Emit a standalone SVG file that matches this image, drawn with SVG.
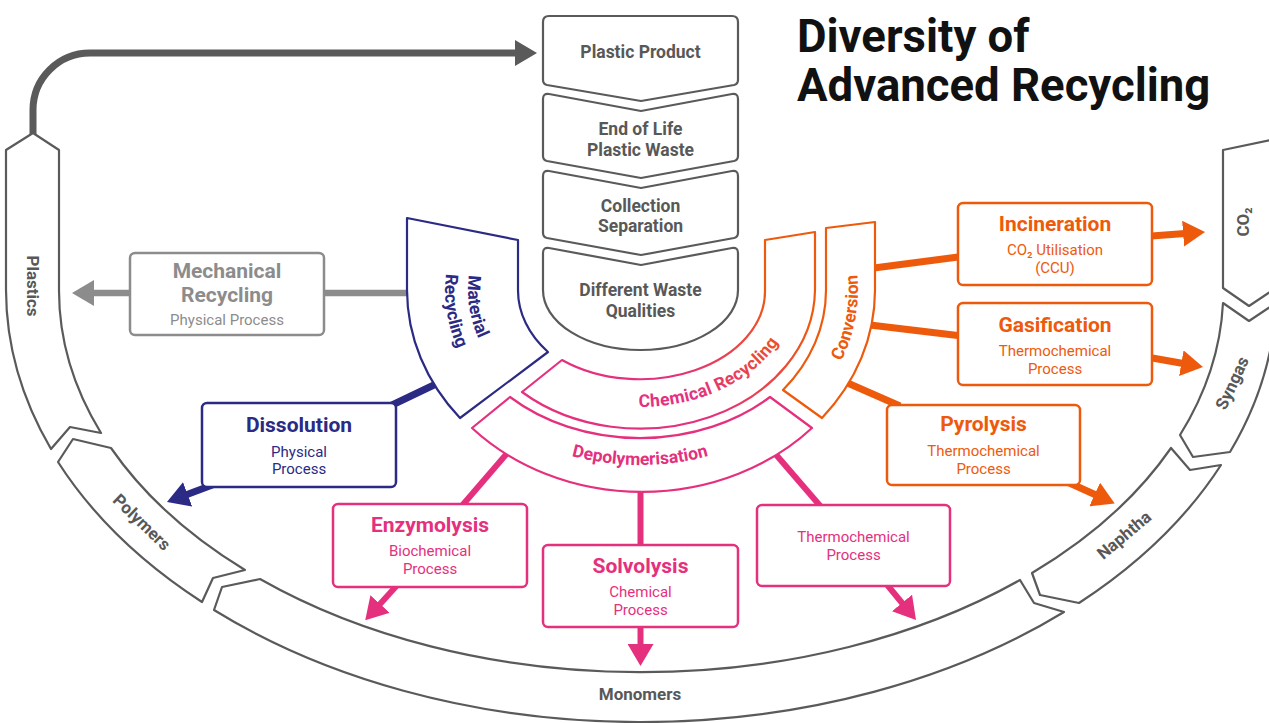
<svg xmlns="http://www.w3.org/2000/svg" width="1269" height="723" viewBox="0 0 1269 723">
<defs>
<style>
text{font-family:Roboto,"Liberation Sans",Arial,sans-serif;}
.ring{fill:#fff;stroke:#5a5a5a;stroke-width:2.2;stroke-linejoin:round;}
.rl{font-size:17px;font-weight:700;fill:#585858;text-anchor:middle;}
.chev{fill:#fff;stroke:#5a5a5a;stroke-width:2.2;stroke-linejoin:round;}
.cl{font-size:17.5px;font-weight:700;fill:#585858;text-anchor:middle;}
.box{fill:#fff;stroke-width:2.5;}
.band{fill:#fff;stroke-width:2.2;stroke-linejoin:round;}
.tm{font-size:21px;font-weight:700;text-anchor:middle;}
.ts{font-size:15px;text-anchor:middle;}
.bl{font-size:17.5px;font-weight:700;}
.ln{fill:none;stroke-linecap:butt;stroke-linejoin:round;}
.f-navy{fill:#2b2a84}.f-pink{fill:#e5307e}.f-orange{fill:#ee5a0c}.f-mgray{fill:#8c8c8c}
.s-navy{stroke:#2b2a84}.s-pink{stroke:#e5307e}.s-orange{stroke:#ee5a0c}.s-mgray{stroke:#8c8c8c}.s-dark{stroke:#5a5a5a}
</style>
<linearGradient id="gchem" gradientUnits="userSpaceOnUse" x1="690" y1="395" x2="785" y2="300">
<stop offset="0" stop-color="#e5307e"/><stop offset="1" stop-color="#ee5a0c"/>
</linearGradient>
<marker id="ah-dark" viewBox="0 0 22 26" refX="2" refY="13" markerWidth="22" markerHeight="26" markerUnits="userSpaceOnUse" orient="auto"><path d="M0,0 L22,13 L0,26 Z" fill="#5a5a5a"/></marker>
<marker id="ah-mgray" viewBox="0 0 22 26" refX="2" refY="13" markerWidth="22" markerHeight="26" markerUnits="userSpaceOnUse" orient="auto"><path d="M0,0 L22,13 L0,26 Z" fill="#8c8c8c"/></marker>
<marker id="ah-navy" viewBox="0 0 22 26" refX="2" refY="13" markerWidth="22" markerHeight="26" markerUnits="userSpaceOnUse" orient="auto"><path d="M0,0 L22,13 L0,26 Z" fill="#2b2a84"/></marker>
<marker id="ah-pink" viewBox="0 0 22 26" refX="2" refY="13" markerWidth="22" markerHeight="26" markerUnits="userSpaceOnUse" orient="auto"><path d="M0,0 L22,13 L0,26 Z" fill="#e5307e"/></marker>
<marker id="ah-orange" viewBox="0 0 22 26" refX="2" refY="13" markerWidth="22" markerHeight="26" markerUnits="userSpaceOnUse" orient="auto"><path d="M0,0 L22,13 L0,26 Z" fill="#ee5a0c"/></marker>
<path id="tp-mat1" d="M 478.4,242.1 A 172 140 0 0 0 491,360"/>
<path id="tp-mat2" d="M 456.8,233.6 A 195 165 0 0 0 471.1,372.5"/>
<path id="tp-chem" d="M 613.1,405.2 A 155 117 0 0 0 785.7,250"/>
<path id="tp-conv" d="M 794.1,420.8 A 218 185 0 0 0 828.8,197.5"/>
<path id="tp-depo" d="M 453.8,377.5 A 215 175 0 0 0 826.2,377.5"/>
</defs>

<rect x="0" y="0" width="1269" height="723" fill="#fff"/>

<g id="title">
<text x="797" y="52" font-size="45.5" font-weight="700" fill="#111">Diversity of</text>
<text x="797" y="101" font-size="45.5" font-weight="700" fill="#111">Advanced Recycling</text>
</g>

<g id="connectors">
<path class="ln s-dark" stroke-width="7" d="M 33,134 V 110 A 57 57 0 0 1 90,53 H 517" marker-end="url(#ah-dark)"/>
<path class="ln s-mgray" stroke-width="6.5" d="M 320,293 H 410"/>
<path class="ln s-mgray" stroke-width="6.5" d="M 135,293 H 92" marker-end="url(#ah-mgray)"/>
<path class="ln s-navy" stroke-width="7" d="M 390,406 L 436,384"/>
<path class="ln s-navy" stroke-width="7" d="M 215,484 L 185.7,495" marker-end="url(#ah-navy)"/>
<path class="ln s-pink" stroke-width="6" d="M 510,450 L 460,508"/>
<path class="ln s-pink" stroke-width="6" d="M 400,582 L 378.7,605.4" marker-end="url(#ah-pink)"/>
<path class="ln s-pink" stroke-width="6" d="M 640.5,486 V 548"/>
<path class="ln s-pink" stroke-width="6" d="M 640.5,624 V 646" marker-end="url(#ah-pink)"/>
<path class="ln s-pink" stroke-width="6" d="M 772,450 L 822,508"/>
<path class="ln s-pink" stroke-width="6" d="M 884,581 L 903.3,604.5" marker-end="url(#ah-pink)"/>
<path class="ln s-orange" stroke-width="7" d="M 870,268.5 L 962,256.5"/>
<path class="ln s-orange" stroke-width="7" d="M 1148,236.3 L 1185.1,233.5" marker-end="url(#ah-orange)"/>
<path class="ln s-orange" stroke-width="7" d="M 870,325 L 962,336"/>
<path class="ln s-orange" stroke-width="7" d="M 1148,357.3 L 1183.3,363.5" marker-end="url(#ah-orange)"/>
<path class="ln s-orange" stroke-width="7" d="M 843,381 L 900,406"/>
<path class="ln s-orange" stroke-width="7" d="M 1065,481 L 1096.5,495.3" marker-end="url(#ah-orange)"/>
</g>

<g id="ring-plastics">
<path class="ring" d="M 33,133 L 59,150 L 59,290 A 582 382 0 0 0 101,433 L 70,427 L 51,449 A 635 432 0 0 1 6,290 L 6,150 Z"/>
<text class="rl" transform="translate(33,286) rotate(90)" y="6">Plastics</text>
</g>
<g id="ring-polymers">
<path class="ring" d="M 73,439 L 111,448 A 582 382 0 0 0 245,570 L 213,578 L 202,602 A 635 432 0 0 1 58,462 Z"/>
<text class="rl" transform="translate(142,522) rotate(44)" y="6">Polymers</text>
</g>
<g id="ring-monomers">
<path class="ring" d="M 222,587 L 260,579 A 582 382 0 0 0 1020,580 L 1034,603 L 1064,612 A 635 432 0 0 1 214,610 Z"/>
<text class="rl" x="640" y="700">Monomers</text>
</g>
<g id="ring-naphtha">
<path class="ring" d="M 1040,595 L 1032,573 A 582 382 0 0 0 1171,448 L 1190,470 L 1221,465 A 635 432 0 0 1 1079,603 Z"/>
<text class="rl" transform="translate(1124,535) rotate(-40)" y="6">Naphtha</text>
</g>
<g id="ring-syngas">
<path class="ring" d="M 1193,457 L 1180,435 A 582 382 0 0 0 1223,303 L 1249,321 L 1276,303 A 635 432 0 0 1 1230,452 Z"/>
<text class="rl" transform="translate(1232,383) rotate(-65)" y="6">Syngas</text>
</g>
<g id="ring-co2">
<path class="ring" d="M 1249,306 L 1223,288 L 1223,150 L 1276,139 L 1276,288 Z"/>
<text class="rl" transform="translate(1243,222) rotate(-90)" y="6">CO₂</text>
</g>

<g id="n-plastic-product">
<path class="chev" d="M 549,16 H 732 Q 738,16 738,22 V 80 Q 738,84 734,85 L 641,101 L 547,85 Q 543,84 543,80 V 22 Q 543,16 549,16 Z"/>
<text class="cl" x="640.5" y="58">Plastic Product</text>
</g>
<g id="n-end-of-life">
<path class="chev" d="M 543,99 Q 543,93 549,94 L 641,111 L 732,94 Q 738,93 738,99 V 156 Q 738,160 734,161 L 641,178 L 547,161 Q 543,160 543,156 Z"/>
<text class="cl" x="640.5" y="135">End of Life</text>
<text class="cl" x="640.5" y="156">Plastic Waste</text>
</g>
<g id="n-collection">
<path class="chev" d="M 543,176 Q 543,170 549,171 L 641,188 L 732,171 Q 738,170 738,176 V 233 Q 738,237 734,238 L 641,255 L 547,238 Q 543,237 543,233 Z"/>
<text class="cl" x="640.5" y="212">Collection</text>
<text class="cl" x="640.5" y="232">Separation</text>
</g>
<g id="n-different-waste">
<path class="chev" d="M 543,253 Q 543,247 549,248 L 641,265 L 732,248 Q 738,247 738,253 V 290 A 97.5 60 0 0 1 543,290 Z"/>
<text class="cl" x="640.5" y="296">Different Waste</text>
<text class="cl" x="640.5" y="317">Qualities</text>
</g>

<g id="n-material-recycling">
<path class="band s-navy" d="M 407,218 L 518,240 L 518,290 A 122 94 0 0 0 548,352 L 460,418 A 233 202 0 0 1 407,290 Z"/>
<text class="bl f-navy" text-anchor="middle"><textPath href="#tp-mat1" startOffset="67">Material</textPath></text>
<text class="bl f-navy" text-anchor="middle"><textPath href="#tp-mat2" startOffset="80">Recycling</textPath></text>
</g>
<g id="n-chemical-recycling">
<path class="band" stroke="url(#gchem)" d="M 765,240 L 815,232 L 815,290 A 175 140 0 0 1 522,392 L 562,360 A 125 88 0 0 0 765,290 Z"/>
<text class="bl" fill="url(#gchem)" font-size="17" letter-spacing="0.3" text-anchor="middle"><textPath href="#tp-chem" startOffset="106">Chemical Recycling</textPath></text>
</g>
<g id="n-conversion">
<path class="band s-orange" d="M 826,228 L 875,222 L 875,290 A 235 202 0 0 1 822,418 L 783,390 A 186 156 0 0 0 826,290 Z"/>
<text class="bl f-orange" font-size="17" text-anchor="middle"><textPath href="#tp-conv" startOffset="121">Conversion</textPath></text>
</g>
<g id="n-depolymerisation">
<path class="band s-pink" d="M 510,397 A 188 148 0 0 0 770,397 L 812,428 A 232 200 0 0 1 472,428 Z"/>
<text class="bl f-pink" text-anchor="middle"><textPath href="#tp-depo" startOffset="50%">Depolymerisation</textPath></text>
</g>

<g id="n-mechanical">
<rect class="box s-mgray" x="130" y="253" width="194" height="82" rx="5"/>
<text class="tm f-mgray" x="227" y="278">Mechanical</text>
<text class="tm f-mgray" x="227" y="302">Recycling</text>
<text class="ts f-mgray" x="227" y="325">Physical Process</text>
</g>
<g id="n-dissolution">
<rect class="box s-navy" x="202" y="403" width="194" height="84" rx="5"/>
<text class="tm f-navy" x="299" y="432">Dissolution</text>
<text class="ts f-navy" x="299" y="457">Physical</text>
<text class="ts f-navy" x="299" y="474">Process</text>
</g>
<g id="n-enzymolysis">
<rect class="box s-pink" x="333" y="504" width="194" height="83" rx="5"/>
<text class="tm f-pink" x="430" y="532">Enzymolysis</text>
<text class="ts f-pink" x="430" y="556">Biochemical</text>
<text class="ts f-pink" x="430" y="574">Process</text>
</g>
<g id="n-solvolysis">
<rect class="box s-pink" x="543" y="545" width="195" height="82" rx="5"/>
<text class="tm f-pink" x="640.5" y="573">Solvolysis</text>
<text class="ts f-pink" x="640.5" y="597">Chemical</text>
<text class="ts f-pink" x="640.5" y="615">Process</text>
</g>
<g id="n-thermochemical">
<rect class="box s-pink" x="757" y="505" width="193" height="81" rx="5"/>
<text class="ts f-pink" x="853.5" y="542">Thermochemical</text>
<text class="ts f-pink" x="853.5" y="560">Process</text>
</g>
<g id="n-incineration">
<rect class="box s-orange" x="958" y="203" width="194" height="82" rx="5"/>
<text class="tm f-orange" x="1055" y="231">Incineration</text>
<text class="ts f-orange" x="1055" y="255">CO₂ Utilisation</text>
<text class="ts f-orange" x="1055" y="273">(CCU)</text>
</g>
<g id="n-gasification">
<rect class="box s-orange" x="958" y="303" width="194" height="82" rx="5"/>
<text class="tm f-orange" x="1055" y="332">Gasification</text>
<text class="ts f-orange" x="1055" y="356">Thermochemical</text>
<text class="ts f-orange" x="1055" y="374">Process</text>
</g>
<g id="n-pyrolysis">
<rect class="box s-orange" x="887" y="405" width="193" height="80" rx="5"/>
<text class="tm f-orange" x="983.5" y="431">Pyrolysis</text>
<text class="ts f-orange" x="983.5" y="456">Thermochemical</text>
<text class="ts f-orange" x="983.5" y="474">Process</text>
</g>
</svg>
